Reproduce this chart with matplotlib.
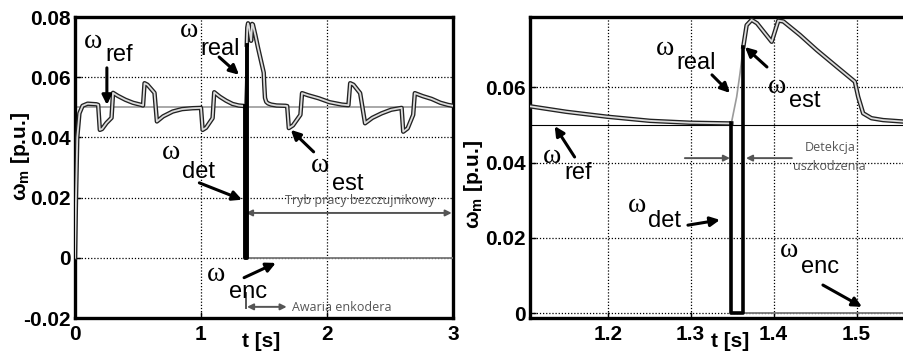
import numpy as np
import matplotlib
matplotlib.use("Agg")
import matplotlib.pyplot as plt

plt.rcParams["font.family"] = ["Liberation Sans", "DejaVu Sans"]
plt.rcParams["mathtext.fontset"] = "custom"
plt.rcParams["mathtext.rm"] = "Liberation Sans:bold"
plt.rcParams["mathtext.bf"] = "Liberation Sans:bold"
plt.rcParams["mathtext.default"] = "rm"

# estimated speed (nan = gap where only the real speed is shown)
t_est = [0.000, 0.008, 0.018, 0.035, 0.060, 0.100, 0.170, 0.184, 0.197, 0.215,
         0.250, 0.290, 0.302, 0.340, 0.400, 0.460, 0.526, 0.540, 0.552, 0.575,
         0.631, 0.650, 0.700, 0.776, 0.850, 0.934, 1.000, 1.013, 1.040, 1.092,
         1.105, 1.150, 1.199, 1.251, 1.299, 1.349, 1.356, 1.3635, 1.3675, 1.3735,
         1.380, 1.3977, 1.4057, 1.4117, 1.4318, 1.452, 1.476, 1.498, 1.502, 1.508,
         1.518, 1.532, 1.557, 1.600, 1.670, 1.684, 1.697, 1.730, 1.789, 1.802,
         1.850, 1.934, 2.020, 2.118, 2.170, 2.184, 2.210, 2.263, 2.302, 2.360,
         2.434, 2.510, 2.592, 2.605, 2.640, 2.684, 2.697, 2.760, 2.830, 2.900,
         2.960, 3.000]
w_est = [0.0000, 0.0200, 0.0400, 0.0480, 0.0505, 0.0512, 0.0510, 0.0508, 0.0425, 0.0428,
         0.0448, 0.0465, 0.0548, 0.0538, 0.0525, 0.0515, 0.0508, 0.0506, 0.0580, 0.0575,
         0.0548, 0.0453, 0.0470, 0.0486, 0.0494, 0.0497, 0.0498, 0.0425, 0.0432, 0.0464,
         0.0550, 0.0535, 0.0522, 0.0511, 0.0506, 0.0504, np.nan, 0.0708, 0.0765, 0.0779,
         0.0770, 0.0721, 0.0777, 0.0775, 0.0739, 0.0699, 0.0655, 0.0615, 0.0575, 0.0531,
         0.0518, 0.0513, 0.0509, 0.0506, 0.0505, 0.0504, 0.0431, 0.0440, 0.0475, 0.0547,
         0.0540, 0.0530, 0.0517, 0.0509, 0.0507, 0.0580, 0.0575, 0.0547, 0.0447, 0.0465,
         0.0480, 0.0492, 0.0498, 0.0419, 0.0430, 0.0475, 0.0547, 0.0537, 0.0528, 0.0515,
         0.0508, 0.0505]

# real speed during the detection gap
t_real = [1.349, 1.3555, 1.3595, 1.3635]
w_real = [0.0504, 0.0575, 0.0637, 0.0708]

# detected speed around the encoder fault
t_det = [1.349, 1.349, 1.3635, 1.3635]
w_det = [0.0504, 0.0, 0.0, 0.0708]

# encoder signal after the fault
t_enc = [1.3635, 3.0]
w_enc = [0.0, 0.0]

# reference
t_ref = [0.0, 3.0]
w_ref = [0.05, 0.05]

left_xticks = [0, 1, 2, 3]
left_yticks = [-0.02, 0, 0.02, 0.04, 0.06, 0.08]
left_ylabels = ["-0.02", "0", "0.02", "0.04", "0.06", "0.08"]
right_xticks = [1.2, 1.3, 1.4, 1.5]
right_yticks = [0, 0.02, 0.04, 0.06]
right_ylabels = ["0", "0.02", "0.04", "0.06"]

fig = plt.figure(figsize=(9.04, 3.58), dpi=100)
ax1 = fig.add_axes([0.08296, 0.11173, 0.41814, 0.84078])
ax2 = fig.add_axes([0.58628, 0.11173, 0.41593, 0.84078])

grey_arrow = dict(arrowstyle="<|-|>", color="#555555", lw=1.4, mutation_scale=9,
                  shrinkA=0, shrinkB=0)
grey_arrow1 = dict(arrowstyle="-|>", color="#555555", lw=1.4, mutation_scale=9,
                   shrinkA=0, shrinkB=0)
black_arrow = dict(arrowstyle="-|>", color="black", lw=2.2, mutation_scale=14,
                   shrinkA=0, shrinkB=0)


def omega_label(ax, w_xy, sub_xy, sub, tail, tip):
    ax.text(*w_xy, "ω", family="Liberation Serif", fontsize=20,
            ha="center", va="center")
    ax.text(*sub_xy, sub, fontsize=17, ha="center", va="center")
    ax.annotate("", xy=tip, xytext=tail, arrowprops=black_arrow)


def style_axes(ax, xticks, yticks, ylabels, xlim, ylim, ylab_xy, tlab_x):
    ax.set_xlim(*xlim)
    ax.set_ylim(*ylim)
    ax.set_xticks(xticks)
    ax.set_xticklabels([str(x) for x in xticks])
    ax.set_yticks(yticks)
    ax.set_yticklabels(ylabels)
    for lab in ax.get_xticklabels() + ax.get_yticklabels():
        lab.set_fontweight("bold")
        lab.set_fontsize(15)
    ax.tick_params(direction="in", length=4, width=1)
    ax.tick_params(axis="x", pad=5)
    ax.tick_params(axis="y", pad=3)
    ax.grid(True, color="black", linestyle=(0, (1, 1.5)), linewidth=0.9)
    ax.set_axisbelow(True)
    for sp in ax.spines.values():
        sp.set_linewidth(2.4)
    ax.set_ylabel("ω$_{m}$ [p.u.]", fontsize=15, fontweight="bold")
    ax.yaxis.set_label_coords(*ylab_xy)
    ax.set_xlabel("t [s]", fontsize=15, fontweight="bold")
    ax.xaxis.set_label_coords(tlab_x, -0.045)


# ---- left panel: whole run
ax1.plot(t_ref, w_ref, color="#9a9a9a", lw=1.2, zorder=2)
ax1.plot(t_est, w_est, color="#222222", lw=3.2, zorder=3)
ax1.plot(t_est, w_est, color="#dcdcdc", lw=1.3, zorder=4)
ax1.plot(t_real, w_real, color="#555555", lw=1.4, zorder=4)
ax1.plot(t_enc, w_enc, color="#777777", lw=1.3, zorder=3)
ax1.plot(t_det, w_det, color="black", lw=2.8, zorder=5)
style_axes(ax1, left_xticks, left_yticks, left_ylabels, (0, 3), (-0.02, 0.08),
           (-0.113, 0.538), 0.492)

omega_label(ax1, (0.142, 0.0717), (0.347, 0.0674), "ref", (0.253, 0.0631), (0.253, 0.0508))
omega_label(ax1, (0.908, 0.0754), (1.152, 0.0694), "real", (1.144, 0.0667), (1.302, 0.0608))
omega_label(ax1, (0.758, 0.0349), (0.979, 0.0286), "det", (0.987, 0.0249), (1.326, 0.0193))
omega_label(ax1, (1.942, 0.0305), (2.163, 0.0245), "est", (1.894, 0.0352), (1.713, 0.0425))
omega_label(ax1, (1.121, -0.0056), (1.373, -0.0113), "enc", (1.342, -0.0066), (1.594, -0.0017))

ax1.annotate("", xy=(2.99, 0.0149), xytext=(1.357, 0.0149), arrowprops=grey_arrow)
ax1.text(2.26, 0.0190, "Tryb pracy bezczujnikowy", family="Open Sans", fontsize=9,
         color="#555555", ha="center", va="center")
ax1.annotate("", xy=(1.68, -0.0163), xytext=(1.365, -0.0163), arrowprops=grey_arrow)
ax1.plot([1.357, 1.357], [-0.0116, -0.0166], color="#555555", lw=1.4)
ax1.text(1.72, -0.0166, "Awaria enkodera", family="Open Sans", fontsize=9,
         color="#555555", ha="left", va="center")

# ---- right panel: zoom around the fault
ax2.plot(t_ref, w_ref, color="black", lw=0.8, zorder=2)
ax2.plot(t_est, w_est, color="#222222", lw=3.2, zorder=3)
ax2.plot(t_est, w_est, color="#dcdcdc", lw=1.3, zorder=4)
ax2.plot(t_real, w_real, color="#9a9a9a", lw=1.2, zorder=4)
ax2.plot(t_enc, w_enc, color="#777777", lw=1.3, zorder=3)
ax2.plot(t_det, w_det, color="black", lw=2.6, zorder=5)
style_axes(ax2, right_xticks, right_yticks, right_ylabels, (1.1062, 1.5597),
           (-0.00125, 0.07867), (-0.12, 0.445), 0.532)
ax2.spines["right"].set_visible(False)

omega_label(ax2, (1.269, 0.0704), (1.3064, 0.0664), "real", (1.3257, 0.0633), (1.3474, 0.0585))
omega_label(ax2, (1.404, 0.0603), (1.438, 0.0564), "est", (1.392, 0.0654), (1.3655, 0.0707))
omega_label(ax2, (1.133, 0.0415), (1.164, 0.0372), "ref", (1.160, 0.0415), (1.136, 0.0497))
omega_label(ax2, (1.235, 0.0285), (1.269, 0.0245), "det", (1.2967, 0.0234), (1.3353, 0.0248))
omega_label(ax2, (1.418, 0.0168), (1.456, 0.0123), "enc", (1.4595, 0.0075), (1.5066, 0.0017))

ax2.annotate("", xy=(1.3474, 0.0412), xytext=(1.293, 0.0412), arrowprops=grey_arrow1)
ax2.annotate("", xy=(1.3667, 0.0412), xytext=(1.422, 0.0412), arrowprops=grey_arrow1)
ax2.text(1.468, 0.0439, "Detekcja", family="Open Sans", fontsize=9,
         color="#555555", ha="center", va="center")
ax2.text(1.467, 0.0389, "uszkodzenia", family="Open Sans", fontsize=9,
         color="#555555", ha="center", va="center")

fig.savefig("out.png", dpi=100)
